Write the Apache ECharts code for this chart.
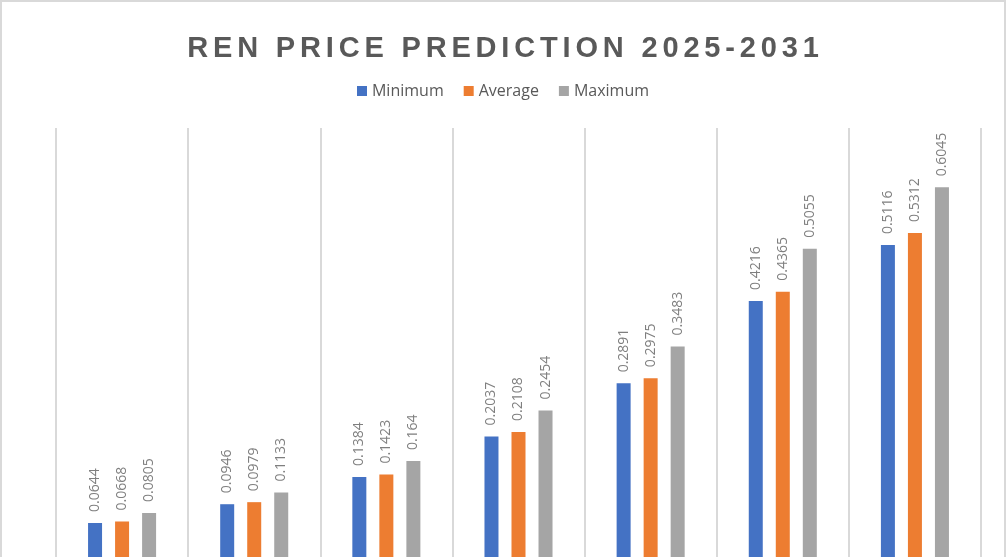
<!DOCTYPE html>
<html>
<head>
<meta charset="utf-8">
<script src="https://cdn.jsdelivr.net/npm/echarts@6/dist/echarts.min.js"></script>
<style>
  html, body { margin: 0; padding: 0; background: #fff; }
  #main { width: 1006px; height: 557px; }
</style>
</head>
<body>
<div id="main"></div>
<script>
  // 数据
  var years = ['2025', '2026', '2027', '2028', '2029', '2030', '2031'];
  var minimum = [0.0644, 0.0946, 0.1384, 0.2037, 0.2891, 0.4216, 0.5116];
  var average = [0.0668, 0.0979, 0.1423, 0.2108, 0.2975, 0.4365, 0.5312];
  var maximum = [0.0805, 0.1133, 0.164, 0.2454, 0.3483, 0.5055, 0.6045];

  var titleText = 'REN PRICE PREDICTION 2025-2031';
  var font = '"Open Sans", "Noto Sans", sans-serif';

  function barLabel() {
    return {
      show: true,
      position: 'top',
      rotate: 90,
      align: 'left',
      verticalAlign: 'middle',
      distance: 11,
      color: '#7f7f7f',
      fontSize: 14,
      fontFamily: font
    };
  }

  var chart = echarts.init(document.getElementById('main'));
  chart.setOption({
    animation: false,
    backgroundColor: '#fff',
    title: {
      // 字间距用六分之一空格模拟
      text: titleText.split('').join('\u2006'),
      left: 'center',
      top: 29,
      textStyle: {
        color: '#595959',
        fontSize: 29,
        fontWeight: 'bold',
        fontFamily: '"Liberation Sans", Arial, sans-serif'
      }
    },
    legend: {
      top: 78,
      left: 'center',
      itemWidth: 10,
      itemHeight: 10,
      itemGap: 20,
      icon: 'rect',
      textStyle: { color: '#595959', fontSize: 16, fontFamily: font },
      data: ['Minimum', 'Average', 'Maximum']
    },
    // 底部超出画布，横轴被裁掉
    grid: { left: 56, right: 25, top: 128, height: 435, outerBoundsMode: 'none' },
    xAxis: {
      type: 'category',
      data: years,
      axisLine: { show: false },
      axisTick: { show: false },
      axisLabel: { show: false },
      splitLine: { show: true, lineStyle: { color: '#d9d9d9', width: 2 } }
    },
    yAxis: {
      type: 'value',
      min: 0,
      max: 0.7,
      interval: 0.1,
      axisLabel: { show: false },
      axisLine: { show: false },
      axisTick: { show: false },
      splitLine: { show: false }
    },
    graphic: [{
      type: 'rect',
      shape: { x: 1, y: 1, width: 1004, height: 600 },
      style: { fill: 'none', stroke: '#d9d9d9', lineWidth: 2 },
      silent: true
    }],
    series: [
      { name: 'Minimum', type: 'bar', data: minimum, barWidth: 14, barGap: '93%',
        itemStyle: { color: '#4472C4' }, label: barLabel() },
      { name: 'Average', type: 'bar', data: average, barWidth: 14, barGap: '93%',
        itemStyle: { color: '#ED7D31' }, label: barLabel() },
      { name: 'Maximum', type: 'bar', data: maximum, barWidth: 14, barGap: '93%',
        itemStyle: { color: '#A5A5A5' }, label: barLabel() }
    ]
  });
</script>
</body>
</html>
